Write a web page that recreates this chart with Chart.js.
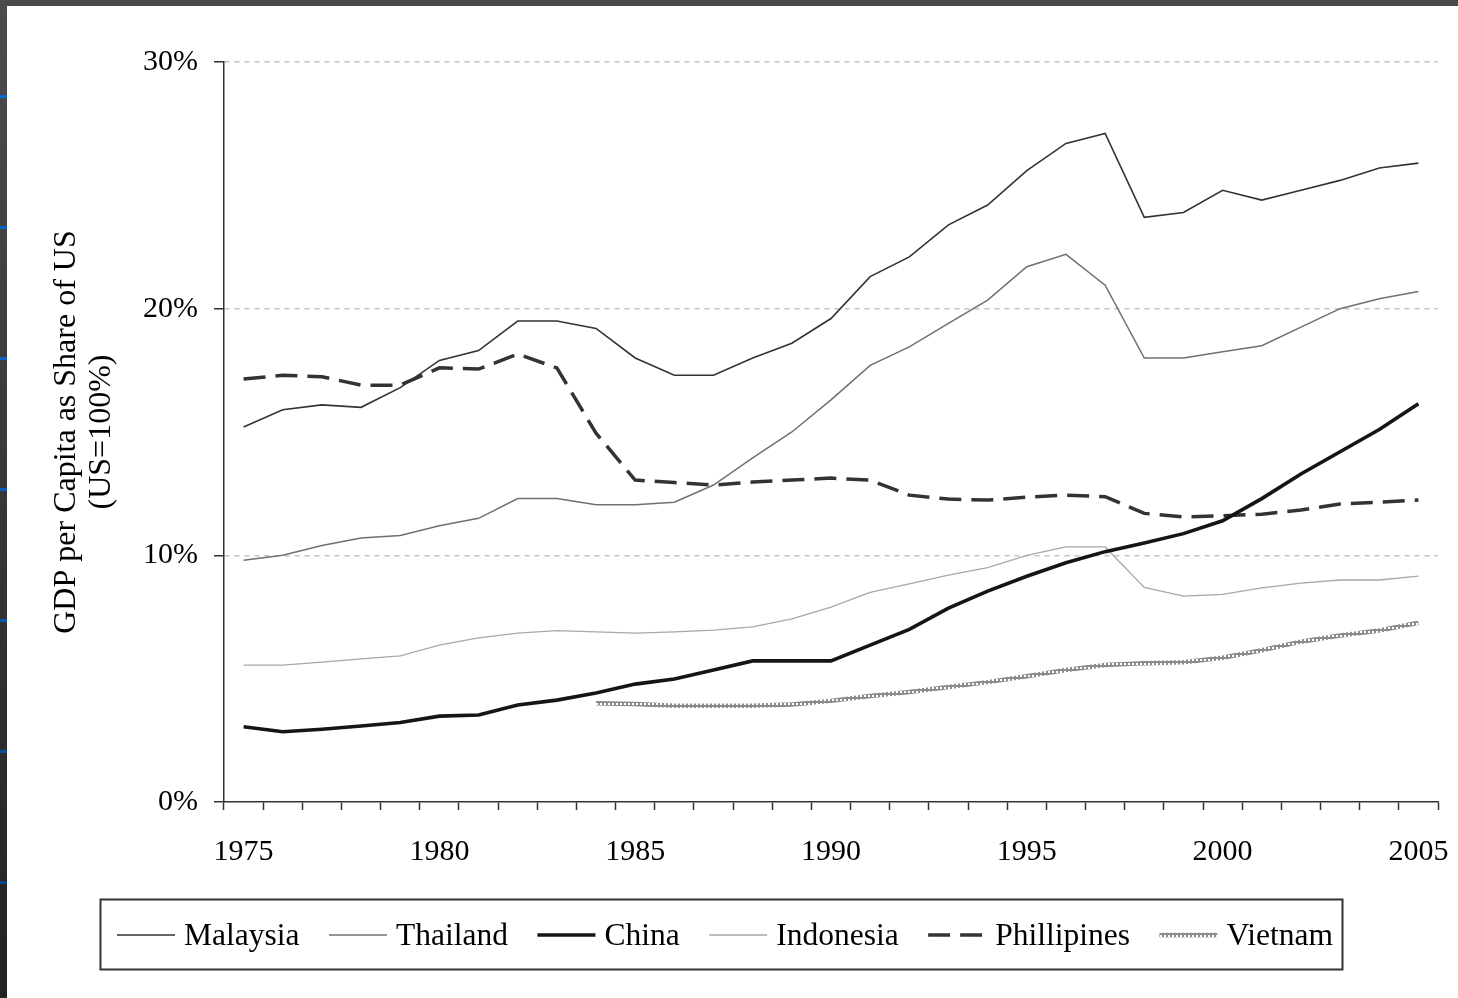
<!DOCTYPE html>
<html>
<head>
<meta charset="utf-8">
<script src="https://cdn.jsdelivr.net/npm/chart.js@4"></script>
<style>
  html, body { margin: 0; padding: 0; }
  body {
    width: 1458px; height: 998px; overflow: hidden; position: relative;
    background: linear-gradient(#4c4c4c, #222222);
  }
  #topbar { position: absolute; left: 0; top: 0; width: 1458px; height: 6px; background: #4a4a4a; }
  .mark { position: absolute; left: 0; width: 7px; height: 3px; }
  #wrap { position: absolute; left: 7px; top: 6px; width: 1451px; height: 992px; background: #fff; }
</style>
</head>
<body>
<div id="topbar"></div>
<div class="mark" style="top:95px;background:#0b6ad2"></div>
<div class="mark" style="top:226px;background:#0b66cc"></div>
<div class="mark" style="top:357px;background:#0b62c4"></div>
<div class="mark" style="top:488px;background:#0a5eba"></div>
<div class="mark" style="top:619px;background:#0a58ae"></div>
<div class="mark" style="top:750px;background:#0a4f9c"></div>
<div class="mark" style="top:881px;background:#0a4688"></div>
<div id="wrap"><canvas id="chart"></canvas></div>
<script>
const years = ['1975','1976','1977','1978','1979','1980','1981','1982','1983','1984',
  '1985','1986','1987','1988','1989','1990','1991','1992','1993','1994',
  '1995','1996','1997','1998','1999','2000','2001','2002','2003','2004','2005'];

// GDP per capita as % of US
const malaysia = [15.2, 15.9, 16.1, 16.0, 16.8, 17.9, 18.3, 19.5, 19.5, 19.2,
  18.0, 17.3, 17.3, 18.0, 18.6, 19.6, 21.3, 22.1, 23.4, 24.2,
  25.6, 26.7, 27.1, 23.7, 23.9, 24.8, 24.4, 24.8, 25.2, 25.7, 25.9];
const thailand = [9.8, 10.0, 10.4, 10.7, 10.8, 11.2, 11.5, 12.3, 12.3, 12.05,
  12.05, 12.15, 12.85, 13.95, 15.0, 16.3, 17.7, 18.45, 19.4, 20.35,
  21.7, 22.2, 20.95, 18.0, 18.0, 18.25, 18.5, 19.25, 20.0, 20.4, 20.7];
const china = [3.05, 2.85, 2.95, 3.08, 3.22, 3.48, 3.53, 3.93, 4.13, 4.42,
  4.78, 4.99, 5.35, 5.72, 5.72, 5.72, 6.36, 7.0, 7.86, 8.55,
  9.15, 9.7, 10.15, 10.5, 10.88, 11.4, 12.3, 13.3, 14.2, 15.1, 16.15];
const indonesia = [5.55, 5.55, 5.67, 5.8, 5.92, 6.36, 6.65, 6.85, 6.95, 6.9,
  6.85, 6.9, 6.97, 7.1, 7.42, 7.9, 8.5, 8.84, 9.2, 9.5,
  10.0, 10.34, 10.34, 8.7, 8.35, 8.42, 8.68, 8.87, 9.0, 9.0, 9.16];
const phillipines = [17.15, 17.3, 17.24, 16.9, 16.9, 17.6, 17.55, 18.16, 17.6, 14.95,
  13.05, 12.95, 12.85, 12.97, 13.05, 13.13, 13.05, 12.44, 12.28, 12.24,
  12.36, 12.44, 12.38, 11.7, 11.56, 11.6, 11.67, 11.84, 12.08, 12.16, 12.24];
const vietnam = [null, null, null, null, null, null, null, null, null, 4.0,
  3.97, 3.9, 3.9, 3.9, 3.95, 4.1, 4.3, 4.46, 4.66, 4.86,
  5.1, 5.35, 5.55, 5.63, 5.67, 5.85, 6.15, 6.5, 6.75, 6.95, 7.27];

const yTicks = [0, 10, 20, 30];
const yTitle = ['GDP per Capita as Share of US', '(US=100%)'];

const serif = '"Liberation Serif", "Times New Roman", serif';

// little chain-of-rings look for Vietnam
const tile = document.createElement('canvas');
tile.width = 4; tile.height = 4;
const tctx = tile.getContext('2d');
tctx.fillStyle = '#8c8c8c';
tctx.fillRect(0, 0, 4, 4);
tctx.fillStyle = '#ffffff';
tctx.fillRect(1, 1, 2, 2);
const chain = tctx.createPattern(tile, 'repeat');

const series = [
  { label: 'Malaysia', data: malaysia, color: '#333333', width: 1.6, dash: [] },
  { label: 'Thailand', data: thailand, color: '#707070', width: 1.5, dash: [] },
  { label: 'China', data: china, color: '#151515', width: 3.6, dash: [] },
  { label: 'Indonesia', data: indonesia, color: '#a8a8a8', width: 1.3, dash: [] },
  { label: 'Phillipines', data: phillipines, color: '#333333', width: 3.5, dash: [22, 10] },
  { label: 'Vietnam', data: vietnam, color: chain, width: 4.5, dash: [] }
];

const boxLegend = {
  id: 'boxLegend',
  afterDraw(chart) {
    const ctx = chart.ctx;
    ctx.save();
    ctx.strokeStyle = '#333';
    ctx.lineWidth = 2;
    ctx.strokeRect(93.5, 893.5, 1242, 70);
    ctx.font = '31.5px ' + serif;
    ctx.fillStyle = '#000';
    ctx.textBaseline = 'alphabetic';
    let x = 110;
    const lineY = 929;
    series.forEach(s => {
      ctx.beginPath();
      ctx.strokeStyle = s.color;
      ctx.lineWidth = s.width;
      ctx.setLineDash(s.dash);
      ctx.moveTo(x, lineY);
      ctx.lineTo(x + 58, lineY);
      ctx.stroke();
      ctx.setLineDash([]);
      x += 67;
      ctx.fillText(s.label, x, 939);
      x += ctx.measureText(s.label).width + 29.5;
    });
    ctx.restore();
  }
};

new Chart(document.getElementById('chart'), {
  type: 'line',
  data: {
    labels: years,
    datasets: series.map(s => ({
      label: s.label,
      data: s.data,
      borderColor: s.color,
      borderWidth: s.width,
      borderDash: s.dash,
      pointRadius: 0,
      tension: 0,
      fill: false,
      spanGaps: false
    }))
  },
  options: {
    responsive: true,
    maintainAspectRatio: false,
    devicePixelRatio: 1,
    animation: false,
    layout: { padding: { top: 56, right: 20, bottom: 0, left: 0 } },
    plugins: {
      legend: { display: false },
      tooltip: { enabled: false }
    },
    scales: {
      x: {
        offset: true,
        grid: {
          offset: true,
          drawOnChartArea: false,
          tickLength: 8,
          tickColor: '#333',
          tickWidth: 1.5
        },
        border: { color: '#333', width: 1.5 },
        ticks: {
          autoSkip: false,
          maxRotation: 0,
          padding: 24,
          color: '#000',
          font: { family: serif, size: 30 },
          callback: (v, i) => (Number(years[i]) % 5 === 0 ? years[i] : '')
        },
        afterFit: scale => {
          scale.height = 196;
          scale.paddingLeft = 0;
          scale.paddingRight = 0;
        }
      },
      y: {
        min: 0,
        max: 30,
        afterBuildTicks: scale => { scale.ticks = yTicks.map(v => ({ value: v })); },
        grid: {
          color: ctx => (ctx.tick && ctx.tick.value === 0 ? 'rgba(0,0,0,0)' : '#c4c4c4'),
          lineWidth: 1.5,
          tickLength: 10,
          tickColor: '#333',
          tickWidth: 1.5,
          tickBorderDash: []
        },
        border: { color: '#333', width: 1.5, dash: [5, 5] },
        ticks: {
          padding: 16,
          color: '#000',
          font: { family: serif, size: 30 },
          callback: v => v + '%'
        },
        title: {
          display: true,
          text: yTitle,
          color: '#000',
          font: { family: serif, size: 32, lineHeight: 1.1 },
          padding: { top: 42, bottom: 0 }
        },
        afterFit: scale => { scale.width = 217; }
      }
    }
  },
  plugins: [boxLegend]
});
</script>
</body>
</html>
